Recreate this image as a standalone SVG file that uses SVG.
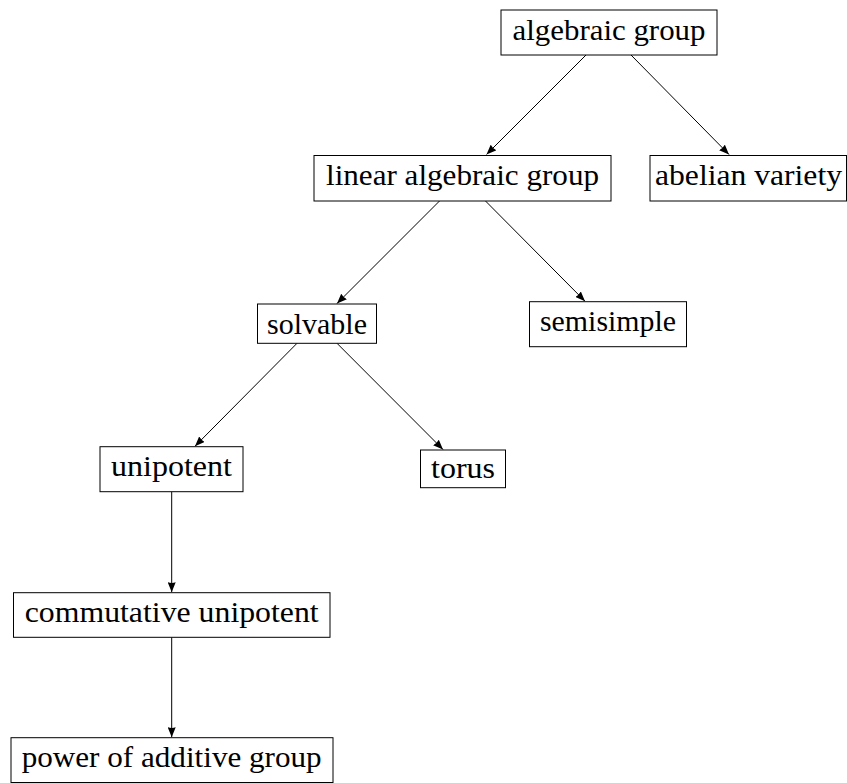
<svg xmlns="http://www.w3.org/2000/svg" width="847" height="783" viewBox="0 0 847 783">
<style>
  .box { fill: #ffffff; stroke: #000000; stroke-width: 1; }
  .lbl { font-family: "Liberation Serif", "Times New Roman", serif; font-size: 29px; fill: #000000; text-anchor: middle; }
  .edge { stroke: #000000; stroke-width: 1; fill: none; marker-end: url(#arrow); }
</style>
<defs>
  <marker id="arrow" viewBox="0 0 10 8" refX="10" refY="4" markerWidth="10" markerHeight="8" markerUnits="userSpaceOnUse" orient="auto">
    <path d="M0,0 L10,4 L0,8 Q1.5,4 0,0 z" fill="#000000"/>
  </marker>
</defs>
<rect width="847" height="783" fill="#ffffff"/>
<g id="connectors">
  <line class="edge" x1="586" y1="55" x2="486.5" y2="154.5"/>
  <line class="edge" x1="631" y1="55" x2="729" y2="154.5"/>
  <line class="edge" x1="439.5" y1="201" x2="337" y2="303.5"/>
  <line class="edge" x1="485.5" y1="201" x2="585" y2="301.2"/>
  <line class="edge" x1="297" y1="343.3" x2="195" y2="446.2"/>
  <line class="edge" x1="337" y1="343.3" x2="443" y2="449.5"/>
  <line class="edge" x1="171.7" y1="491.7" x2="171.7" y2="592.2"/>
  <line class="edge" x1="171.7" y1="637.3" x2="171.7" y2="737.2"/>
</g>
<g id="node-algebraic-group">
  <rect class="box" x="501" y="10" width="216" height="45"/>
  <text class="lbl" x="609" y="39.5" textLength="193" lengthAdjust="spacingAndGlyphs">algebraic group</text>
</g>
<g id="node-linear-algebraic-group">
  <rect class="box" x="314" y="155.5" width="297" height="45.5"/>
  <text class="lbl" x="462.5" y="184.5" textLength="273" lengthAdjust="spacingAndGlyphs">linear algebraic group</text>
</g>
<g id="node-abelian-variety">
  <rect class="box" x="650" y="155.5" width="196.5" height="45.5"/>
  <text class="lbl" x="748.5" y="184.5" textLength="187" lengthAdjust="spacingAndGlyphs">abelian variety</text>
</g>
<g id="node-solvable">
  <rect class="box" x="257.5" y="304" width="119" height="39.3"/>
  <text class="lbl" x="317" y="333.5" textLength="100" lengthAdjust="spacingAndGlyphs">solvable</text>
</g>
<g id="node-semisimple">
  <rect class="box" x="529.5" y="301.7" width="157" height="45"/>
  <text class="lbl" x="608" y="331.2" textLength="136" lengthAdjust="spacingAndGlyphs">semisimple</text>
</g>
<g id="node-unipotent">
  <rect class="box" x="100" y="446.7" width="143" height="45"/>
  <text class="lbl" x="171.5" y="476" textLength="121" lengthAdjust="spacingAndGlyphs">unipotent</text>
</g>
<g id="node-torus">
  <rect class="box" x="420.5" y="450" width="85" height="37.7"/>
  <text class="lbl" x="463" y="477.5" textLength="64" lengthAdjust="spacingAndGlyphs">torus</text>
</g>
<g id="node-commutative-unipotent">
  <rect class="box" x="13.5" y="592.7" width="316.5" height="44.6"/>
  <text class="lbl" x="171.7" y="622" textLength="294" lengthAdjust="spacingAndGlyphs">commutative unipotent</text>
</g>
<g id="node-power-of-additive-group">
  <rect class="box" x="11" y="737.7" width="322" height="44.8"/>
  <text class="lbl" x="171.7" y="767.2" textLength="300" lengthAdjust="spacingAndGlyphs">power of additive group</text>
</g>
</svg>
